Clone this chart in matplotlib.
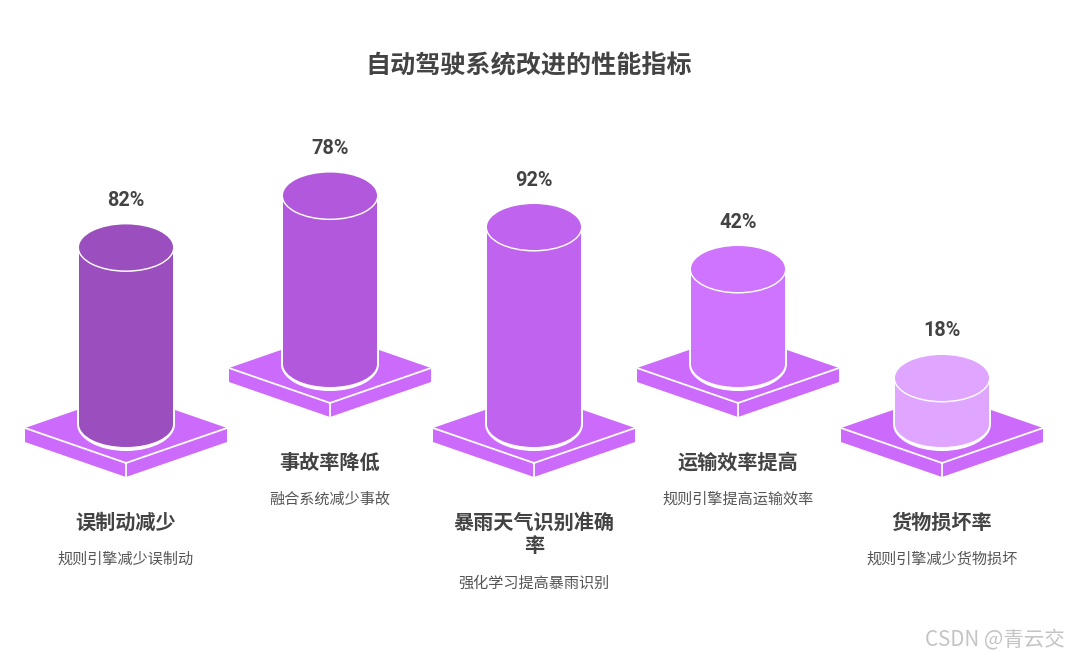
import matplotlib.pyplot as plt
from matplotlib.patches import Polygon, Rectangle, Ellipse

plt.rcParams['font.family'] = ['Noto Sans CJK SC', 'DejaVu Sans']

# chart data
values = [82, 78, 92, 42, 18]
titles = ['误制动减少', '事故率降低', '暴雨天气识别准确\n率', '运输效率提高', '货物损坏率']
notes = ['规则引擎减少误制动', '融合系统减少事故', '强化学习提高暴雨识别',
         '规则引擎提高运输效率', '规则引擎减少货物损坏']
colors = ['#9b4fbe', '#b158dc', '#c063ee', '#cf74ff', '#e0a5ff']

BASE_COLOR = '#cc6bfb'
TEXT_COLOR = '#434343'
PX_PER_UNIT = 2.04
MIN_HEIGHT = 9.3


def draw_base(ax, cx, cy):
    hw, hh, side = 101, 35, 14
    ax.add_patch(Polygon([(cx - hw, cy), (cx, cy - hh), (cx + hw, cy), (cx, cy + hh)],
                         fc=BASE_COLOR, ec='none', zorder=1))
    ax.add_patch(Polygon([(cx - hw, cy), (cx, cy + hh), (cx, cy + hh + side), (cx - hw, cy + side)],
                         fc=BASE_COLOR, ec='none', zorder=1))
    ax.add_patch(Polygon([(cx + hw, cy), (cx, cy + hh), (cx, cy + hh + side), (cx + hw, cy + side)],
                         fc=BASE_COLOR, ec='none', zorder=1))
    ax.plot([cx - hw, cx, cx + hw], [cy, cy + hh, cy], color='white', lw=1.3, zorder=2)
    ax.plot([cx, cx], [cy + hh, cy + hh + side], color='white', lw=1.3, zorder=2)


def draw_cylinder(ax, cx, bottom, height, color):
    rx, ry, gap = 47, 23, 2
    top = bottom - height
    # white halo round the lower part of the cylinder
    ax.add_patch(Rectangle((cx - rx - gap, top), 2 * (rx + gap), height, fc='white', ec='none', zorder=3))
    ax.add_patch(Ellipse((cx, bottom), 2 * (rx + gap), 2 * (ry + gap + 2), fc='white', ec='none', zorder=3))
    ax.add_patch(Rectangle((cx - rx, top), 2 * rx, height, fc=color, ec='none', zorder=4))
    ax.add_patch(Ellipse((cx, bottom), 2 * rx, 2 * ry, fc=color, ec='none', zorder=4))
    ax.add_patch(Ellipse((cx, top), 2 * rx + 3, 2 * ry + 3, fc='white', ec='none', zorder=5))
    ax.add_patch(Ellipse((cx, top), 2 * rx, 2 * ry, fc=color, ec='none', zorder=6))
    return top


fig = plt.figure(figsize=(10.68, 6.56), dpi=100)
ax = fig.add_axes([0, 0, 1, 1])
ax.set_xlim(0, 1068)
ax.set_ylim(656, 0)
ax.axis('off')

ax.text(529, 66, '自动驾驶系统改进的性能指标', fontsize=18.05, fontweight='bold',
        color=TEXT_COLOR, ha='center', va='center')

for i, value in enumerate(values):
    cx = 126 + 204 * i
    shift = -60 if i % 2 else 0
    draw_base(ax, cx, 428 + shift)
    top = draw_cylinder(ax, cx, 424 + shift, value * PX_PER_UNIT + MIN_HEIGHT, colors[i])
    ax.text(cx, top - 47, f'{value}%', fontsize=14.3, fontweight='bold', family='Roboto',
            color=TEXT_COLOR, ha='center', va='center')

    lines = titles[i].split('\n')
    for j, line in enumerate(lines):
        ax.text(cx, 522 + shift + 24 * j, line, fontsize=14.5, fontweight='bold',
                color=TEXT_COLOR, ha='center', va='center')
    ax.text(cx, 559 + shift + 24 * (len(lines) - 1), notes[i], fontsize=10.9,
            color='#555555', ha='center', va='center')

ax.text(1065, 640, 'CSDN @青云交', fontsize=14.8, color='#c4c4c4', ha='right', va='center')

fig.savefig('out.png', dpi=100)
